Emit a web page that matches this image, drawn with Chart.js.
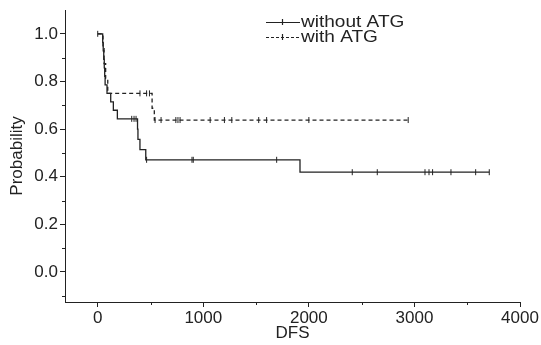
<!DOCTYPE html>
<html>
<head>
<meta charset="utf-8">
<script src="https://cdn.jsdelivr.net/npm/chart.js@4"></script>
<style>
  html, body { margin: 0; padding: 0; background: #fff; }
  #wrap { width: 541px; height: 345px; }
</style>
</head>
<body>
<div id="wrap"><canvas id="km"></canvas></div>
<script>
// Kaplan-Meier steps (time in days, survival after that time)
const noAtgTimes = [0, 47, 52, 57, 62, 66, 70, 88, 123, 148, 186, 377, 381, 400, 455, 1916, 3709];
const noAtgSurv  = [1.0, 0.964, 0.929, 0.893, 0.857, 0.821, 0.786, 0.75, 0.714, 0.679, 0.643, 0.600, 0.557, 0.514, 0.471, 0.419, 0.419];
const noAtgCensored = [0, 322, 344, 363, 463, 893, 905, 1695, 2411, 2648, 3100, 3138, 3172, 3346, 3580, 3709];

const atgTimes = [0, 50, 60, 75, 95, 515, 536, 2941];
const atgSurv  = [1.0, 0.9375, 0.875, 0.8125, 0.75, 0.6875, 0.638, 0.638];
const atgCensored = [400, 463, 490, 543, 600, 740, 760, 780, 1065, 1200, 1270, 1525, 1600, 2000, 2941];

const xTicks = [0, 1000, 2000, 3000, 4000];
const xMinorTicks = [500, 1500, 2500, 3500];
const yTicks = [0.0, 0.2, 0.4, 0.6, 0.8, 1.0];
const yMinorTicks = [-0.1, 0.1, 0.3, 0.5, 0.7, 0.9];

const seriesNames = ['without ATG', 'with ATG'];

const ink = '#222';
const fontFamily = "'Liberation Sans', Arial, sans-serif";

// survival value at time t, read from a step series
function survAt(times, surv, t) {
    let s = surv[0];
    for (let i = 0; i < times.length; i++) {
        if (times[i] <= t) s = surv[i];
    }
    return s;
}

const toPoints = (xs, ys) => xs.map((x, i) => ({ x: x, y: ys[i] }));

const minorTicksPlugin = {
    id: 'minorTicks',
    afterDraw(chart) {
        const { ctx, scales: { x, y } } = chart;
        ctx.save();
        ctx.strokeStyle = ink;
        ctx.lineWidth = 1;
        ctx.beginPath();
        yMinorTicks.forEach(v => {
            const py = Math.round(y.getPixelForValue(v)) + 0.5;
            ctx.moveTo(x.left - 3, py);
            ctx.lineTo(x.left, py);
        });
        xMinorTicks.forEach(v => {
            const px = Math.round(x.getPixelForValue(v)) + 0.5;
            ctx.moveTo(px, y.bottom);
            ctx.lineTo(px, y.bottom + 3);
        });
        ctx.stroke();
        ctx.restore();
    }
};

const legendPlugin = {
    id: 'kmLegend',
    afterDraw(chart) {
        const ctx = chart.ctx;
        const rows = [
            { label: seriesNames[0], y: 22, dash: [] },
            { label: seriesNames[1], y: 37, dash: [3, 2] }
        ];
        ctx.save();
        rows.forEach(r => {
            ctx.strokeStyle = ink;
            ctx.lineWidth = 1.2;
            ctx.setLineDash(r.dash);
            ctx.beginPath();
            ctx.moveTo(266, r.y + 0.5);
            ctx.lineTo(300, r.y + 0.5);
            ctx.stroke();
            ctx.setLineDash([]);
            ctx.beginPath();
            ctx.moveTo(282.5, r.y - 3);
            ctx.lineTo(282.5, r.y + 3);
            ctx.stroke();

            ctx.fillStyle = ink;
            ctx.font = '17px ' + fontFamily;
            ctx.textBaseline = 'middle';
            ctx.textAlign = 'left';
            ctx.save();
            ctx.translate(301, r.y);
            ctx.scale(1.12, 1);
            ctx.fillText(r.label, 0, 0);
            ctx.restore();
        });
        ctx.restore();
    }
};

const lineStyle = {
    borderColor: ink,
    borderWidth: 1.3,
    pointRadius: 0,
    fill: false,
    stepped: 'before',
    showLine: true
};

const censorStyle = {
    showLine: false,
    pointStyle: 'line',
    rotation: 90,
    pointRadius: 3,
    pointBorderWidth: 1,
    pointBorderColor: ink,
    pointBackgroundColor: ink
};

new Chart(document.getElementById('km'), {
    type: 'scatter',
    data: {
        datasets: [
            { ...lineStyle, label: seriesNames[0], data: toPoints(noAtgTimes, noAtgSurv) },
            { ...lineStyle, label: seriesNames[1], borderDash: [4, 3], data: toPoints(atgTimes, atgSurv) },
            { ...censorStyle, label: 'c1', data: noAtgCensored.map(t => ({ x: t, y: survAt(noAtgTimes, noAtgSurv, t) })) },
            { ...censorStyle, label: 'c2', data: atgCensored.map(t => ({ x: t, y: survAt(atgTimes, atgSurv, t) })) }
        ]
    },
    options: {
        responsive: true,
        maintainAspectRatio: false,
        animation: false,
        layout: { padding: { top: 10, right: 21, left: 0, bottom: 0 } },
        plugins: {
            legend: { display: false },
            tooltip: { enabled: false }
        },
        scales: {
            x: {
                type: 'linear',
                min: -310,
                max: 4000,
                afterBuildTicks: s => { s.ticks = xTicks.map(v => ({ value: v })); },
                afterFit: s => { s.height = 43; s.paddingLeft = 0; s.paddingRight = 0; },
                ticks: {
                    color: ink,
                    padding: 1,
                    maxRotation: 0,
                    font: { size: 17, family: fontFamily },
                    callback: v => String(v)
                },
                grid: { drawOnChartArea: false, drawTicks: true, tickLength: 5, color: ink },
                border: { display: true, color: ink, width: 1 },
                title: {
                    display: true,
                    text: 'DFS',
                    color: ink,
                    font: { size: 17, family: fontFamily },
                    padding: { top: 0, bottom: 1 }
                }
            },
            y: {
                type: 'linear',
                min: -0.126,
                max: 1.1,
                afterBuildTicks: s => { s.ticks = yTicks.map(v => ({ value: v })); },
                afterFit: s => { s.width = 65; s.paddingTop = 0; s.paddingBottom = 0; },
                ticks: {
                    color: ink,
                    padding: 2,
                    font: { size: 17, family: fontFamily },
                    callback: v => v.toFixed(1)
                },
                grid: { drawOnChartArea: false, drawTicks: true, tickLength: 5, color: ink },
                border: { display: true, color: ink, width: 1 },
                title: {
                    display: true,
                    text: 'Probability',
                    color: ink,
                    font: { size: 17, family: fontFamily },
                    padding: { top: 7, bottom: 0 }
                }
            }
        }
    },
    plugins: [minorTicksPlugin, legendPlugin]
});
</script>
</body>
</html>
